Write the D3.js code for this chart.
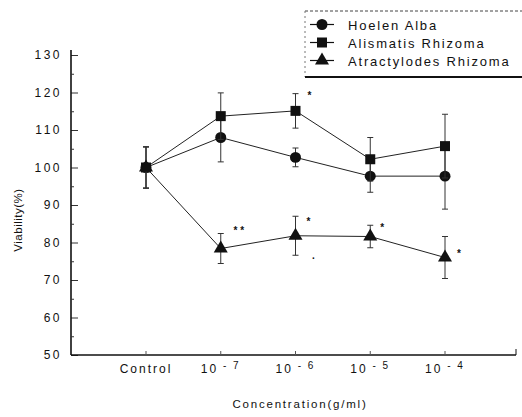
<!DOCTYPE html>
<html><head><meta charset="utf-8">
<script src="https://cdn.jsdelivr.net/npm/d3@7/dist/d3.min.js"></script>
<style>body{margin:0;background:#fff}svg{display:block}text{font-family:"Liberation Sans",Arial,sans-serif;fill:#111}</style>
</head><body><svg id="c" width="522" height="417"></svg>
<script>
const categories = ["Control","10^-7","10^-6","10^-5","10^-4"];
const seriesNames = ["Hoelen Alba","Alismatis Rhizoma","Atractylodes Rhizoma"];
const hoelen = [100, 108, 102.7, 97.7, 97.7];
const hoelenErr = [5.5, 6.5, 2.5, 4.3, 8.8];
const alismatis = [100, 113.7, 115.1, 102.2, 105.7];
const alismatisErr = [5.5, 6.2, 4.6, 5.8, 8.5];
const atract = [100, 78.4, 81.8, 81.6, 76];
const atractErr = [5.5, 4.0, 5.2, 3.0, 5.6];
const yTicks = [50,60,70,80,90,100,110,120,130];
const marks = [
  {cat:"10^-7", v:83.5, dx:18, t:"* *"},
  {cat:"10^-6", v:119.5, dx:14, t:"*"},
  {cat:"10^-6", v:86, dx:13, t:"*"},
  {cat:"10^-6", v:77, dx:18, t:"."},
  {cat:"10^-5", v:84.5, dx:12, t:"*"},
  {cat:"10^-4", v:77.5, dx:14, t:"*"}
];

const svg = d3.select("#c");
const x = d3.scalePoint().domain(categories).range([146,445]);
const y = d3.scaleLinear().domain([50,130]).range([355,55]);
const X0 = 71, XEND = 516;

// axes
const yAx = svg.append("g").attr("transform",`translate(${X0},0)`)
  .call(d3.axisRight(y).tickValues(yTicks).tickSize(7).tickFormat(""));
yAx.select(".domain").remove();
svg.append("line").attr("x1",X0).attr("x2",X0).attr("y1",50).attr("y2",y(50)).attr("stroke","#111").attr("stroke-width",1.6);
svg.append("g").attr("transform",`translate(${X0},0)`)
  .call(d3.axisRight(y).tickValues(d3.range(55,130,10)).tickSize(3).tickFormat(""))
  .select(".domain").remove();
svg.selectAll(".tick line").attr("stroke","#333");
svg.selectAll(".ylab").data(yTicks).join("text").attr("class","ylab")
  .attr("x",62).attr("y",d=>y(d)+4).attr("text-anchor","end")
  .style("font-size","12px").style("letter-spacing","2.5px").text(d=>d);

svg.append("line").attr("x1",X0).attr("x2",XEND).attr("y1",y(50)).attr("y2",y(50)).attr("stroke","#111").attr("stroke-width",1.6);
svg.append("line").attr("x1",XEND).attr("x2",XEND).attr("y1",y(50)).attr("y2",y(50)-6).attr("stroke","#111");
svg.selectAll(".xt").data(categories).join("line").attr("class","xt")
  .attr("x1",d=>x(d)).attr("x2",d=>x(d)).attr("y1",y(50)).attr("y2",y(50)-4).attr("stroke","#555");
const xl = svg.selectAll(".xlab").data(categories).join("text").attr("class","xlab")
  .attr("x",d=>x(d)).attr("y",373).attr("text-anchor","middle").style("font-size","12px").style("letter-spacing","2px");
xl.each(function(d){
  const t = d3.select(this);
  if(d.startsWith("10^")){
    t.append("tspan").text("10");
    t.append("tspan").attr("dy",-4).style("font-size","10px").text(" "+d.slice(3).replace("-","- "));
  } else t.text(d);
});
svg.append("text").attr("x",300).attr("y",408).attr("text-anchor","middle").style("font-size","11.5px").style("letter-spacing","1.8px").text("Concentration(g/ml)");
svg.append("text").attr("transform","translate(22,220) rotate(-90)").attr("text-anchor","middle").style("font-size","11.5px").style("letter-spacing","0.5px").text("Viability(%)");

// series
const series = [
  {name:seriesNames[0], vals:hoelen, err:hoelenErr, sym:d3.symbolCircle, size:95},
  {name:seriesNames[1], vals:alismatis, err:alismatisErr, sym:d3.symbolSquare, size:100},
  {name:seriesNames[2], vals:atract, err:atractErr, sym:d3.symbolTriangle, size:85}
];
const line = d3.line().x((d,i)=>x(categories[i])).y(d=>y(d));
series.forEach(s=>{
  svg.append("path").attr("d",line(s.vals)).attr("fill","none").attr("stroke","#222").attr("stroke-width",1);
  const g = svg.append("g");
  s.vals.forEach((v,i)=>{
    const cx = x(categories[i]);
    const top = y(v + s.err[i]), bot = y(v - s.err[i]);
    g.append("line").attr("x1",cx).attr("x2",cx).attr("y1",top).attr("y2",bot).attr("stroke","#333");
    g.append("line").attr("x1",cx-3).attr("x2",cx+3).attr("y1",top).attr("y2",top).attr("stroke","#333");
    g.append("line").attr("x1",cx-3).attr("x2",cx+3).attr("y1",bot).attr("y2",bot).attr("stroke","#333");
  });
  svg.selectAll(null).data(s.vals).join("path")
    .attr("transform",(d,i)=>`translate(${x(categories[i])},${y(d)})`)
    .attr("d",d3.symbol().type(s.sym).size(s.size)).attr("fill","#111");
});
svg.selectAll(".sig").data(marks).join("text").attr("class","sig")
  .attr("x",d=>x(d.cat)+d.dx).attr("y",d=>y(d.v)+5).attr("text-anchor","middle")
  .style("font-size","10px").style("font-weight","bold").text(d=>d.t);

// legend
const lg = svg.append("g");
lg.append("line").attr("x1",305).attr("x2",522).attr("y1",11).attr("y2",11).attr("stroke","#444").attr("stroke-dasharray","3,2");
lg.append("line").attr("x1",305).attr("x2",305).attr("y1",11).attr("y2",77).attr("stroke","#777").attr("stroke-dasharray","2,3");
lg.append("line").attr("x1",305).attr("x2",522).attr("y1",77).attr("y2",77).attr("stroke","#111").attr("stroke-width",2);
series.forEach((s,i)=>{
  const ly = 24.5 + i*18;
  lg.append("line").attr("x1",310).attr("x2",334).attr("y1",ly).attr("y2",ly).attr("stroke","#111").attr("stroke-width",1.2);
  lg.append("path").attr("transform",`translate(322,${ly})`).attr("d",d3.symbol().type(s.sym).size(s.size)).attr("fill","#111");
  lg.append("text").attr("x",348).attr("y",ly+5).style("font-size","13px").style("letter-spacing","1.8px").text(s.name.replace(" ","  "));
});
</script></body></html>
